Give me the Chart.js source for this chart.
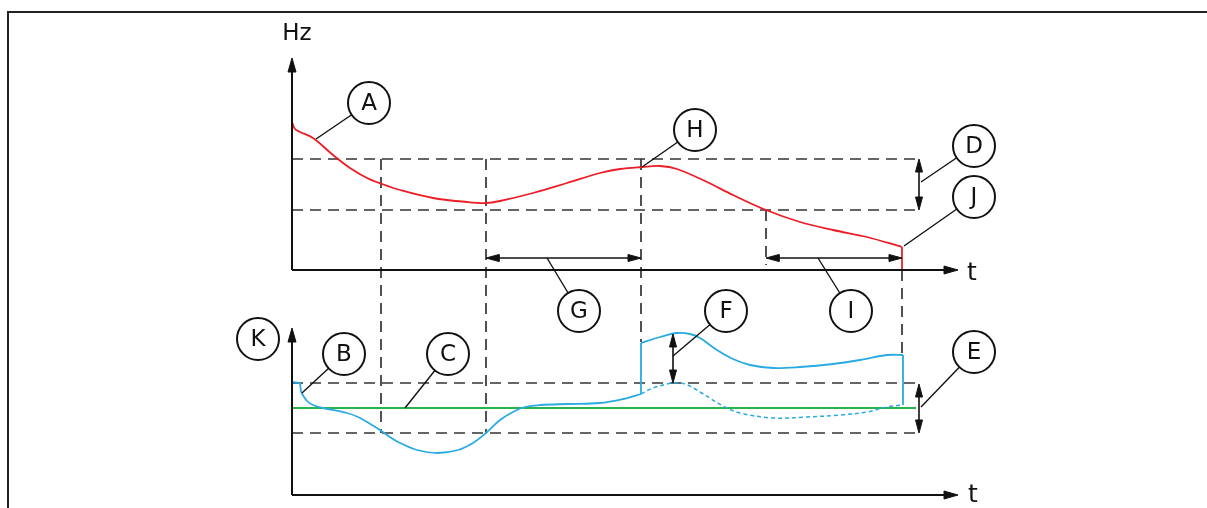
<!DOCTYPE html>
<html lang="en">
<head>
<meta charset="UTF-8">
<script src="https://cdn.jsdelivr.net/npm/chart.js@4.4.0/dist/chart.umd.min.js"></script>
<title>Frequency diagram</title>
<style>
    body { margin: 0; background: #ffffff; }
    .chart-container { position: relative; width: 1207px; height: 508px; }
</style>
</head>
<body>
<div class="chart-container">
    <canvas id="myChart"></canvas>
</div>
<script>
// diagram units: x = time position, y = level (0 at the top of the sheet)
const freqCurve = [[292,122],[295,129],[300,132],[313,138],[333,155],[350,168],[367,178],[382,184],[400,190],[433,198],[467,202],[486,203],[500,201],[533,193],[567,183],[600,173],[620,169],[642,167],[660,166],[677,169],[707,182],[733,195],[766,210],[800,222],[833,230],[867,237],[902,247]];
const freqDrop = [[902,247],[902,270]];

const currentStart = [[292,382],[300,383],[301,392]];
const currentCurve = [[301,392],[307,401],[313,405],[323,408],[347,413],[358,417],[367,422],[380,430],[390,437],[400,443],[417,450],[438,453],[458,450],[473,443],[486,433],[500,420],[513,412],[525,407],[540,405],[567,404],[600,403],[623,399],[641,394]];
const currentStep = [[641,394],[641,343]];
const currentHigh = [[641,343],[660,337],[677,333],[690,334],[700,338],[717,350],[733,359],[750,365],[773,368],[800,367],[833,364],[860,360],[887,355],[903,355]];
const currentHighDrop = [[903,355],[903,405]];
const currentLow = [[641,394],[653,388],[673,383],[685,384],[700,392],[723,406],[740,413],[773,418],[807,417],[840,415],[867,412],[887,407],[903,405]];
const refLevel = [[292,408],[916,408]];

const limitStart = 292, limitEnd = 918;
const freqLimits = [159, 210];
const currentLimits = [383, 433];
// vertical markers: [time, from level, to level]
const markers = [[381,159,433],[486,159,433],[641,159,342],[766,210,265],[902,270,355]];

// double arrows: [x0, y0, x1, y1]
const spans = [[919,159,919,210],[919,384,919,433],[673,334,673,383],[486,258,641,258],[766,258,902,258]];

// axes: [origin x, origin y, tip x, tip y]
const axes = [[292,270,292,58],[292,270,958,270],[292,495,292,328],[292,495,958,495]];

const callouts = [
    {label: 'A', x: 369, y: 103, from: [316,139]},
    {label: 'H', x: 695, y: 130, from: [642,167]},
    {label: 'D', x: 974, y: 146, from: [921,182]},
    {label: 'J', x: 974, y: 197, from: [904,246]},
    {label: 'G', x: 579, y: 311, from: [547,258]},
    {label: 'F', x: 726, y: 311, from: [673,356]},
    {label: 'I', x: 851, y: 311, from: [818,258]},
    {label: 'K', x: 258, y: 339, from: null},
    {label: 'B', x: 344, y: 354, from: [302,393]},
    {label: 'C', x: 448, y: 354, from: [405,408]},
    {label: 'E', x: 974, y: 352, from: [921,407]}
];
const axisTexts = [
    {text: 'Hz', x: 297, y: 34},
    {text: 't', x: 972, y: 273},
    {text: 't', x: 973, y: 495}
];

const frame = [[8,508],[8,12],[1207,12]];

function pts(arr) {
    return arr.map(p => ({x: p[0], y: p[1]}));
}

function line(arr, color, width, extra) {
    return Object.assign({
        type: 'scatter',
        data: pts(arr),
        showLine: true,
        borderColor: color,
        backgroundColor: color,
        borderWidth: width,
        pointRadius: 0,
        fill: false,
        clip: false,
        order: 5
    }, extra || {});
}

// filled triangle with its tip at (tx,ty), coming from (fx,fy)
function head(fx, fy, tx, ty, len, half) {
    const d = Math.hypot(tx - fx, ty - fy);
    const ux = (tx - fx) / d, uy = (ty - fy) / d;
    const bx = tx - ux * len, by = ty - uy * len;
    return line([[tx,ty],[bx - uy*half, by + ux*half],[bx + uy*half, by - ux*half],[tx,ty]], '#111', 1, {fill: 'shape', order: 3});
}

const datasets = [];

datasets.push(line(frame, '#222', 2, {order: 9}));

[freqLimits, currentLimits].forEach(lims => lims.forEach(v => {
    datasets.push(line([[limitStart, v],[limitEnd, v]], '#333', 1.7, {borderDash: [11, 7], order: 8}));
}));
markers.forEach(m => {
    datasets.push(line([[m[0], m[1]],[m[0], m[2]]], '#333', 1.7, {borderDash: [11, 7], order: 8}));
});

axes.forEach(a => {
    const len = 14;
    const d = Math.hypot(a[2]-a[0], a[3]-a[1]);
    const sx = a[2] - (a[2]-a[0]) / d * (len - 2), sy = a[3] - (a[3]-a[1]) / d * (len - 2);
    datasets.push(line([[a[0], a[1]],[sx, sy]], '#111', 2, {order: 4}));
    datasets.push(head(a[0], a[1], a[2], a[3], len, 4));
});

const smooth = {tension: 0.35};
datasets.push(line(refLevel, '#2bb24c', 1.8, {order: 6}));
datasets.push(line(freqCurve, '#ee1c25', 1.8, smooth));
datasets.push(line(freqDrop, '#ee1c25', 1.8));
datasets.push(line(currentStart, '#29abe2', 1.8));
datasets.push(line(currentCurve, '#29abe2', 1.8, smooth));
datasets.push(line(currentStep, '#29abe2', 1.8));
datasets.push(line(currentHigh, '#29abe2', 1.8, smooth));
datasets.push(line(currentHighDrop, '#29abe2', 1.8));
datasets.push(line(currentLow, '#29abe2', 1.5, {tension: 0.35, borderDash: [4, 3]}));

spans.forEach(s => {
    const len = 13, half = 3.5;
    const d = Math.hypot(s[2]-s[0], s[3]-s[1]);
    const ux = (s[2]-s[0]) / d, uy = (s[3]-s[1]) / d;
    datasets.push(line([[s[0] + ux*(len-2), s[1] + uy*(len-2)],[s[2] - ux*(len-2), s[3] - uy*(len-2)]], '#111', 1.6, {order: 3}));
    datasets.push(head(s[2], s[3], s[0], s[1], len, half));
    datasets.push(head(s[0], s[1], s[2], s[3], len, half));
});

callouts.forEach(c => {
    if (c.from) {
        datasets.push(line([c.from, [c.x, c.y]], '#111', 1.4, {order: 2}));
    }
});

datasets.push({
    type: 'scatter',
    data: callouts.map(c => ({x: c.x, y: c.y})),
    pointRadius: 21,
    pointHoverRadius: 21,
    pointStyle: 'circle',
    backgroundColor: '#ffffff',
    borderColor: '#111',
    borderWidth: 2,
    clip: false,
    order: 1
});

const diagramText = {
    id: 'diagramText',
    afterDatasetsDraw(chart) {
        const {ctx, scales: {x, y}} = chart;
        ctx.save();
        ctx.fillStyle = '#111';
        ctx.textAlign = 'center';
        ctx.textBaseline = 'middle';
        ctx.font = '23px "DejaVu Sans"';
        callouts.forEach(c => {
            ctx.fillText(c.label, x.getPixelForValue(c.x), y.getPixelForValue(c.y) + 1);
        });
        axisTexts.forEach(t => {
            ctx.font = (t.text === 't' ? '25px' : '23px') + ' "DejaVu Sans"';
            ctx.fillText(t.text, x.getPixelForValue(t.x), y.getPixelForValue(t.y));
        });
        ctx.restore();
    }
};

const config = {
    type: 'scatter',
    data: { datasets: datasets },
    options: {
        responsive: true,
        maintainAspectRatio: false,
        animation: false,
        events: [],
        layout: { padding: 0, autoPadding: false },
        scales: {
            x: { type: 'linear', min: 0, max: 1207, display: false },
            y: { type: 'linear', min: 0, max: 508, reverse: true, display: false }
        },
        plugins: {
            legend: { display: false },
            tooltip: { enabled: false }
        }
    },
    plugins: [diagramText]
};

var myChart = new Chart(document.getElementById('myChart'), config);
</script>
</body>
</html>
